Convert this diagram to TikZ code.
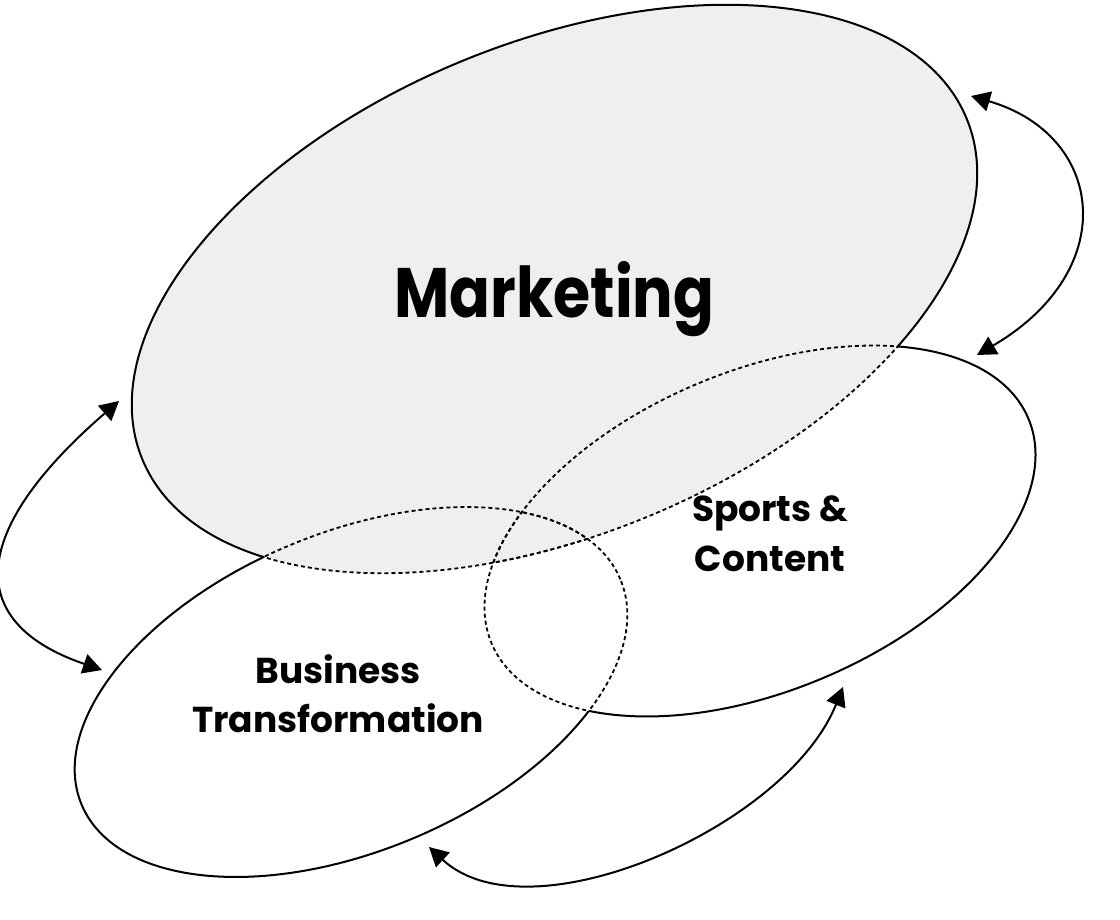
\documentclass[tikz,border=0pt]{standalone}
\usepackage{fontspec}
\setmainfont{Poppins}
\newfontfamily\mkfont{Poppins}[FakeStretch=0.86]
\usetikzlibrary{arrows.meta}
\definecolor{mkfill}{HTML}{EFEFEF}
\begin{document}
\begin{tikzpicture}[x=1pt,y=-1pt,
  tM/.style={shift={(554.5,289)},rotate=22.5},
  tB/.style={shift={(351,692)},rotate=22.7},
  tS/.style={shift={(760,531)},rotate=22.7},
  outl/.style={line width=2pt},
  dotl/.style={line width=1.8pt,dash pattern=on 4pt off 3pt},
  arr/.style={line width=2pt,{Triangle[length=19pt,width=20pt]}-{Triangle[length=19pt,width=20pt]}},
  lblbig/.style={font=\mkfont\bfseries\fontsize{70}{80}\selectfont,anchor=base,inner sep=0pt},
  lbl/.style={font=\bfseries\fontsize{36}{44}\selectfont,anchor=base,inner sep=0pt}
]
\useasboundingbox (0,0) rectangle (1120,920);

% Marketing fill
\fill[mkfill, tM] (0,0) ellipse [x radius=446pt, y radius=246pt];

% ---- Marketing outline
\begin{scope}[even odd rule]
  \clip[tB] (-3000,-3000) rectangle (3000,3000) (0,0) ellipse [x radius=292pt, y radius=159pt];
  \clip[tS] (-3000,-3000) rectangle (3000,3000) (0,0) ellipse [x radius=291pt, y radius=160pt];
  \draw[outl, tM] (0,0) ellipse [x radius=446pt, y radius=246pt];
\end{scope}
\begin{scope}
  \clip[tB] (0,0) ellipse [x radius=292pt, y radius=159pt];
  \draw[dotl, tM] (0,0) ellipse [x radius=446pt, y radius=246pt];
\end{scope}
\begin{scope}
  \clip[tS] (0,0) ellipse [x radius=291pt, y radius=160pt];
  \draw[dotl, tM] (0,0) ellipse [x radius=446pt, y radius=246pt];
\end{scope}

% ---- Business outline
\begin{scope}[even odd rule]
  \clip[tM] (-3000,-3000) rectangle (3000,3000) (0,0) ellipse [x radius=446pt, y radius=246pt];
  \clip[tS] (-3000,-3000) rectangle (3000,3000) (0,0) ellipse [x radius=291pt, y radius=160pt];
  \draw[outl, tB] (0,0) ellipse [x radius=292pt, y radius=159pt];
\end{scope}
\begin{scope}
  \clip[tM] (0,0) ellipse [x radius=446pt, y radius=246pt];
  \draw[dotl, tB] (0,0) ellipse [x radius=292pt, y radius=159pt];
\end{scope}
\begin{scope}
  \clip[tS] (0,0) ellipse [x radius=291pt, y radius=160pt];
  \draw[dotl, tB] (0,0) ellipse [x radius=292pt, y radius=159pt];
\end{scope}

% ---- Sports outline
\begin{scope}[even odd rule]
  \clip[tM] (-3000,-3000) rectangle (3000,3000) (0,0) ellipse [x radius=446pt, y radius=246pt];
  \clip[tB] (-3000,-3000) rectangle (3000,3000) (0,0) ellipse [x radius=292pt, y radius=159pt];
  \draw[outl, tS] (0,0) ellipse [x radius=291pt, y radius=160pt];
\end{scope}
\begin{scope}
  \clip[tM] (0,0) ellipse [x radius=446pt, y radius=246pt];
  \draw[dotl, tS] (0,0) ellipse [x radius=291pt, y radius=160pt];
\end{scope}
\begin{scope}
  \clip[tB] (0,0) ellipse [x radius=292pt, y radius=159pt];
  \draw[dotl, tS] (0,0) ellipse [x radius=291pt, y radius=160pt];
\end{scope}

% ---- Labels
\node[lblbig] (mk) at (554.5,317) {Marketing};
\node[lbl] (bt1) at (338,683) {Business};
\node[lbl] (bt2) at (338,732) {Transformation};
\node[lbl] (sc1) at (770,521) {Sports \&};
\node[lbl] (sc2) at (770,571) {Content};

% ---- Arrows
\coordinate (la) at (119,401);
\coordinate (lb) at (102,670);
\coordinate (ra) at (971,96);
\coordinate (rb) at (977,355);
\coordinate (ba) at (429,847);
\coordinate (bb) at (843,687);
\draw[arr] (la) .. controls (-30,530) and (-38,622) .. (lb);
\draw[arr] (ra) .. controls (1105,135) and (1122,270) .. (rb);
\draw[arr] (ba) .. controls (529,940) and (787,827) .. (bb);
\end{tikzpicture}
\end{document}
